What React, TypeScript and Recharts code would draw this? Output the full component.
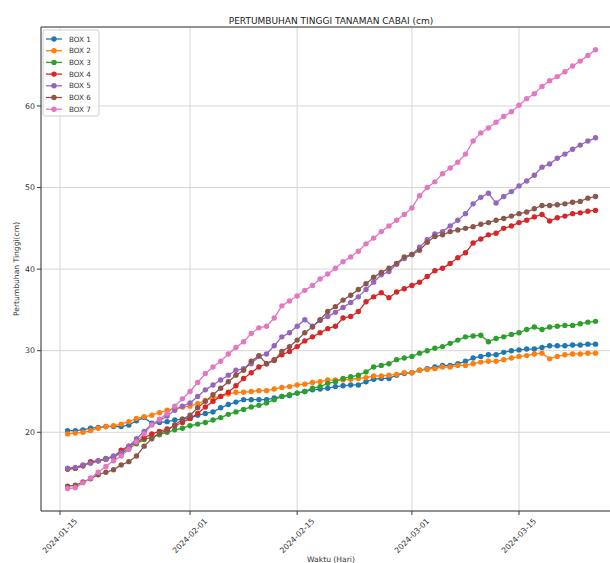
import React from "react";
import { LineChart, Line, XAxis, YAxis, CartesianGrid, ReferenceLine } from "recharts";

// daily measurements, 2024-01-16 .. 2024-03-25
const FIRST_DAY = "2024-01-16";
const DAY_COUNT = 70;

const seriesNames = ["BOX 1", "BOX 2", "BOX 3", "BOX 4", "BOX 5", "BOX 6", "BOX 7"];
const seriesColors = ["#1f77b4", "#ff7f0e", "#2ca02c", "#d62728", "#9467bd", "#8c564b", "#e377c2"];

const box1 = [
  20.2, 20.2, 20.3, 20.5, 20.6, 20.7, 20.7, 20.7, 20.9, 21.4, 21.8, 21.1, 21.2, 21.3, 21.5, 21.6, 21.7,
  22.1, 22.3, 22.5, 23.0, 23.4, 23.7, 24.0, 24.0, 24.0, 24.0, 24.2, 24.4, 24.5, 24.8, 25.0, 25.2, 25.3, 25.4, 25.6,
  25.7, 25.8, 25.8, 26.2, 26.5, 26.6, 26.6, 27.0, 27.2, 27.3, 27.6, 27.8, 28.0, 28.2, 28.2, 28.4, 28.7, 29.1, 29.3,
  29.5, 29.5, 29.8, 30.0, 30.1, 30.2, 30.2, 30.4, 30.6, 30.6, 30.6, 30.7, 30.7, 30.8, 30.8,
];
const box2 = [
  19.8, 19.9, 20.0, 20.2, 20.5, 20.7, 20.8, 21.0, 21.3, 21.7, 21.9, 22.1, 22.4, 22.7, 22.9, 23.1, 23.2,
  23.5, 23.9, 24.2, 24.4, 24.7, 24.9, 24.9, 25.0, 25.1, 25.1, 25.3, 25.5, 25.6, 25.8, 25.9, 26.1, 26.2, 26.4, 26.4,
  26.4, 26.5, 26.6, 26.7, 26.9, 26.9, 27.0, 27.1, 27.3, 27.3, 27.6, 27.7, 27.8, 28.0, 28.0, 28.2, 28.2, 28.4, 28.6,
  28.7, 28.7, 28.9, 29.1, 29.3, 29.4, 29.6, 29.7, 29.0, 29.3, 29.5, 29.6, 29.6, 29.7, 29.7,
];
const box3 = [
  15.5, 15.6, 15.9, 16.3, 16.5, 16.8, 17.0, 17.4, 18.0, 18.6, 19.1, 19.4, 19.7, 20.0, 20.3, 20.5, 20.8,
  21.0, 21.2, 21.5, 21.8, 22.2, 22.5, 22.8, 23.1, 23.3, 23.6, 24.0, 24.4, 24.6, 24.8, 25.0, 25.4, 25.6, 26.0, 26.2,
  26.6, 26.8, 27.0, 27.4, 28.0, 28.2, 28.4, 28.9, 29.1, 29.3, 29.7, 30.0, 30.3, 30.5, 30.9, 31.3, 31.7, 31.8, 31.9,
  31.1, 31.5, 31.7, 32.0, 32.2, 32.6, 32.9, 32.6, 32.9, 33.0, 33.1, 33.1, 33.3, 33.5, 33.6,
];
const box4 = [
  15.5, 15.6, 15.9, 16.4, 16.5, 16.7, 17.0, 17.8, 18.3, 18.8, 19.3, 19.8, 20.1, 20.4, 20.8, 21.2, 21.7,
  22.3, 23.1, 23.8, 24.4, 24.9, 25.7, 26.6, 27.3, 28.0, 28.4, 28.9, 29.5, 29.9, 30.5, 31.2, 31.7, 32.2, 32.7, 33.0,
  34.0, 34.2, 34.8, 36.0, 36.6, 37.1, 36.5, 37.2, 37.6, 38.0, 38.4, 39.1, 39.8, 40.1, 40.7, 41.4, 42.0, 43.2, 43.7,
  44.2, 44.4, 45.0, 45.3, 45.7, 46.0, 46.4, 46.7, 45.9, 46.3, 46.5, 46.8, 46.9, 47.1, 47.2,
];
const box5 = [
  15.6, 15.7, 16.0, 16.2, 16.5, 16.7, 17.1, 17.5, 18.3, 19.2, 20.1, 21.0, 21.4, 22.0, 22.7, 23.2, 23.6,
  24.4, 25.2, 25.8, 26.4, 27.0, 27.6, 27.8, 28.4, 29.3, 29.6, 30.6, 31.7, 32.2, 33.0, 33.8, 33.0, 33.7, 34.2, 34.7,
  35.3, 35.9, 36.6, 37.5, 38.4, 39.3, 39.7, 40.6, 41.3, 41.8, 42.7, 43.6, 44.3, 44.6, 45.3, 46.0, 46.8, 48.0, 48.8,
  49.3, 48.1, 48.9, 49.5, 50.2, 50.8, 51.5, 52.5, 52.9, 53.6, 54.1, 54.7, 55.2, 55.7, 56.1,
];
const box6 = [
  13.4, 13.5, 13.9, 14.3, 14.8, 15.1, 15.4, 16.0, 16.4, 17.1, 18.3, 19.2, 19.9, 20.2, 20.9, 21.6, 22.1,
  23.0, 23.8, 24.6, 25.4, 26.2, 27.0, 27.6, 28.7, 29.4, 28.4, 28.8, 29.9, 30.5, 31.3, 32.2, 32.9, 33.8, 34.8, 35.4,
  36.2, 36.8, 37.5, 38.2, 39.0, 39.6, 40.1, 40.7, 41.5, 41.8, 42.3, 43.3, 44.0, 44.2, 44.6, 44.8, 45.0, 45.2, 45.5,
  45.7, 46.0, 46.2, 46.5, 46.8, 47.0, 47.4, 47.8, 47.8, 47.9, 48.0, 48.2, 48.3, 48.7, 48.9,
];
const box7 = [
  13.1, 13.2, 13.8, 14.4, 15.1, 15.8, 16.5, 17.1, 17.9, 18.8, 19.8, 20.9, 21.6, 22.3, 23.2, 24.1, 25.0,
  26.1, 27.2, 28.0, 28.7, 29.6, 30.4, 31.1, 32.1, 32.8, 33.0, 34.0, 35.5, 36.1, 36.7, 37.4, 38.0, 38.8, 39.4, 40.1,
  40.9, 41.5, 42.2, 43.1, 43.8, 44.6, 45.3, 46.0, 46.7, 47.5, 49.0, 50.0, 50.7, 51.7, 52.4, 53.1, 54.1, 55.7, 56.7,
  57.3, 58.0, 58.7, 59.3, 60.1, 60.9, 61.5, 62.4, 63.1, 63.6, 64.2, 64.9, 65.5, 66.2, 66.9,
];
const seriesValues = [box1, box2, box3, box4, box5, box6, box7];

const xTickLabels = ["2024-01-15", "2024-02-01", "2024-02-15", "2024-03-01", "2024-03-15"];
const yTicks = [20, 30, 40, 50, 60];

const DAY_MS = 86400000;
const origin = Date.parse(xTickLabels[0]);
const dayOf = (s: string) => Math.round((Date.parse(s) - origin) / DAY_MS);

const dates: string[] = [];
for (let i = 0; i < DAY_COUNT; i++) {
  dates.push(new Date(Date.parse(FIRST_DAY) + i * DAY_MS).toISOString().slice(0, 10));
}

const data = dates.map((d, i) => {
  const row: Record<string, number | string> = { date: d, x: dayOf(d) };
  seriesValues.forEach((vals, k) => {
    row["box" + (k + 1)] = vals[i];
  });
  return row;
});

const xTicks = xTickLabels.map(dayOf);
const labelFor: Record<number, string> = {};
xTickLabels.forEach((l) => (labelFor[dayOf(l)] = l));

const FONT = "DejaVu Sans, sans-serif";
const Y_MIN = 10.35;
const Y_MAX = 69.68;

const DateTick = (props: any) => {
  const { x, y, payload } = props;
  return (
    <g transform={`translate(${x},${y + 19})`}>
      <text
        transform="rotate(-45)"
        textAnchor="middle"
        dominantBaseline="central"
        fontSize={7.8}
        fontFamily={FONT}
        fill="#333"
      >
        {labelFor[payload.value]}
      </text>
    </g>
  );
};

export default function App() {
  return (
    <div
      style={{
        position: "absolute",
        left: 0,
        top: 0,
        width: 610,
        height: 563,
        overflow: "hidden",
        background: "#fff",
      }}
    >
      <LineChart width={640} height={563} data={data} margin={{ top: 27, right: 18, bottom: 0, left: 0 }}>
        <CartesianGrid stroke="#d6d6d6" strokeWidth={1} />
        <XAxis
          dataKey="x"
          type="number"
          domain={[-2.48, 73.46]}
          ticks={xTicks}
          allowDataOverflow
          height={52}
          tickSize={4}
          tickLine={{ stroke: "#3a3a3a" }}
          axisLine={{ stroke: "#3a3a3a" }}
          tick={<DateTick />}
          interval={0}
        />
        <YAxis
          type="number"
          domain={[Y_MIN, Y_MAX]}
          ticks={yTicks}
          allowDataOverflow
          width={41}
          tickSize={4}
          tickMargin={2}
          tickLine={{ stroke: "#3a3a3a" }}
          axisLine={{ stroke: "#3a3a3a" }}
          tick={{ fontSize: 7.8, fill: "#333", fontFamily: FONT }}
          interval={0}
        />
        <ReferenceLine y={Y_MAX} stroke="#3a3a3a" strokeWidth={1} />
        {seriesNames.map((name, k) => (
          <Line
            key={name}
            name={name}
            type="linear"
            dataKey={"box" + (k + 1)}
            stroke={seriesColors[k]}
            strokeWidth={1.3}
            dot={{ r: 2.7, fill: seriesColors[k], stroke: seriesColors[k], strokeWidth: 0 }}
            activeDot={false}
            isAnimationActive={false}
          />
        ))}
      </LineChart>

      <svg
        width={610}
        height={563}
        style={{ position: "absolute", left: 0, top: 0, pointerEvents: "none" }}
        fontFamily={FONT}
      >
        <text x={331} y={24} textAnchor="middle" fontSize={9} fill="#222">
          PERTUMBUHAN TINGGI TANAMAN CABAI (cm)
        </text>
        <text transform="translate(19,269) rotate(-90)" textAnchor="middle" fontSize={7.6} fill="#333">
          Pertumbuhan Tinggi(cm)
        </text>
        <text x={331} y={562} textAnchor="middle" fontSize={7.6} fill="#333">
          Waktu (Hari)
        </text>

        <rect x={43} y={30} width={56} height={86} rx={2} fill="#fff" fillOpacity={0.8} stroke="#d0d0d0" />
        {seriesNames.map((name, k) => {
          const cy = 39 + k * 11.7;
          return (
            <g key={name}>
              <line x1={46} x2={62} y1={cy} y2={cy} stroke={seriesColors[k]} strokeWidth={1.3} />
              <circle cx={54} cy={cy} r={2.7} fill={seriesColors[k]} />
              <text x={69} y={cy} dominantBaseline="central" fontSize={7.2} fill="#333">
                {name}
              </text>
            </g>
          );
        })}
      </svg>
    </div>
  );
}
